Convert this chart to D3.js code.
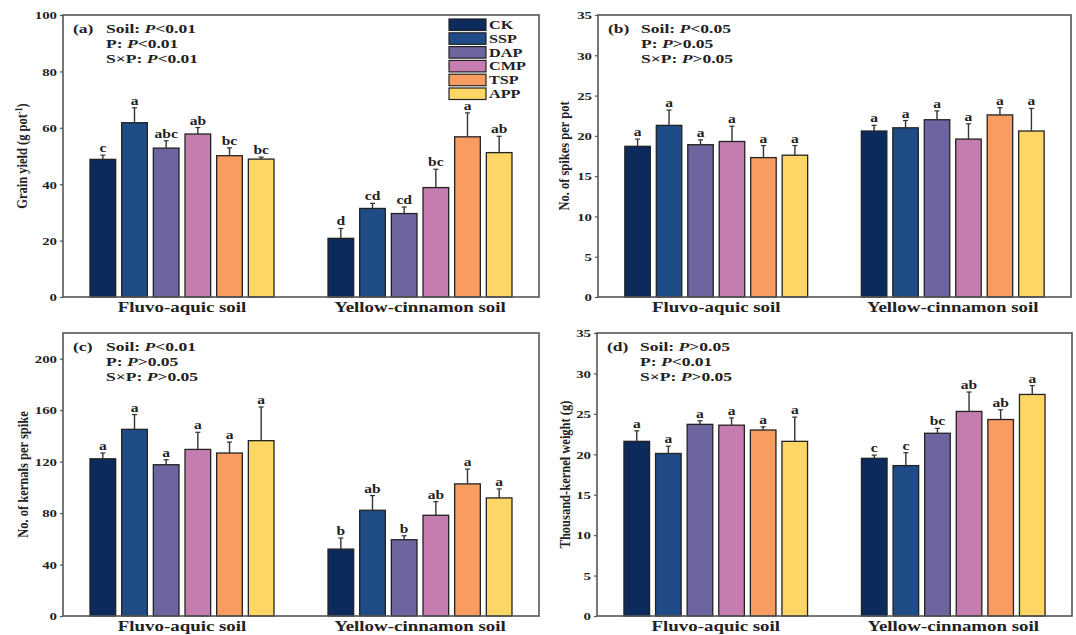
<!DOCTYPE html>
<html>
<head>
<meta charset="utf-8">
<script src="https://cdn.jsdelivr.net/npm/d3@7/dist/d3.min.js"></script>
<style>
  body { margin: 0; background: #fff; }
  svg text { font-family: "Liberation Serif", "Times New Roman", serif; font-weight: bold; fill: #222; }
</style>
</head>
<body>
<svg id="chart" width="1076" height="635"></svg>
<script>
// treatments and soils
const treatments = ["CK", "SSP", "DAP", "CMP", "TSP", "APP"];
const soils = ["Fluvo-aquic soil", "Yellow-cinnamon soil"];
const barColors = ["#0c2a5b", "#1f4b87", "#6d659f", "#c57db0", "#f99c62", "#fdd665"];

// (a) grain yield
const yieldFluvo = [48.8, 61.8, 52.8, 57.8, 50.1, 48.9];
const yieldFluvoErr = [1.5, 5.3, 2.6, 2.3, 2.8, 0.7];
const yieldFluvoLet = ["c", "a", "abc", "ab", "bc", "bc"];
const yieldYellow = [20.8, 31.4, 29.6, 38.8, 56.8, 51.2];
const yieldYellowErr = [3.5, 1.8, 2.3, 6.5, 8.5, 5.8];
const yieldYellowLet = ["d", "cd", "cd", "bc", "a", "ab"];

// (b) spikes per pot
const spikeFluvo = [18.7, 21.3, 18.9, 19.3, 17.3, 17.6];
const spikeFluvoErr = [0.9, 1.9, 0.6, 1.9, 1.5, 1.2];
const spikeFluvoLet = ["a", "a", "a", "a", "a", "a"];
const spikeYellow = [20.6, 21.0, 22.0, 19.6, 22.6, 20.6];
const spikeYellowErr = [0.7, 0.9, 1.1, 1.9, 0.9, 2.8];
const spikeYellowLet = ["a", "a", "a", "a", "a", "a"];

// (c) kernels per spike
const kernelFluvo = [122.2, 145.1, 117.6, 129.5, 126.7, 136.3];
const kernelFluvoErr = [4.5, 11.5, 3.9, 13.3, 8.5, 26.2];
const kernelFluvoLet = ["a", "a", "a", "a", "a", "a"];
const kernelYellow = [52.0, 82.2, 59.3, 78.3, 102.7, 91.8];
const kernelYellowErr = [8.6, 11.4, 3.1, 10.6, 11.5, 7.0];
const kernelYellowLet = ["b", "ab", "b", "ab", "a", "a"];

// (d) thousand-kernel weight
const tkwFluvo = [21.6, 20.1, 23.7, 23.6, 23.0, 21.6];
const tkwFluvoErr = [1.3, 0.9, 0.45, 0.9, 0.4, 3.0];
const tkwFluvoLet = ["a", "a", "a", "a", "a", "a"];
const tkwYellow = [19.5, 18.6, 22.6, 25.3, 24.3, 27.4];
const tkwYellowErr = [0.4, 1.6, 0.6, 2.4, 1.2, 1.1];
const tkwYellowLet = ["c", "c", "bc", "ab", "ab", "a"];

const statsA = ["Soil: P<0.01", "P: P<0.01", "S\u00d7P: P<0.01"];
const statsB = ["Soil: P<0.05", "P: P>0.05", "S\u00d7P: P>0.05"];
const statsC = ["Soil: P<0.01", "P: P>0.05", "S\u00d7P: P>0.05"];
const statsD = ["Soil: P>0.05", "P: P<0.01", "S\u00d7P: P>0.05"];

const ticksA = [0, 20, 40, 60, 80, 100];
const ticksB = [0, 5, 10, 15, 20, 25, 30, 35];
const ticksC = [0, 40, 80, 120, 160, 200];
const ticksD = [0, 5, 10, 15, 20, 25, 30, 35];

const panels = [
  { tag: "(a)", ylab: "Grain yield (g pot", sup: "-1", ymax: 100, ticks: ticksA, stats: statsA,
    box: { x0: 63, x1: 539, y0: 15, y1: 297 }, labX: 23, legend: true,
    mean: [yieldFluvo, yieldYellow], err: [yieldFluvoErr, yieldYellowErr], lets: [yieldFluvoLet, yieldYellowLet] },
  { tag: "(b)", ylab: "No. of spikes per pot", ymax: 35, ticks: ticksB, stats: statsB,
    box: { x0: 598, x1: 1071, y0: 15, y1: 297 }, labX: 565,
    mean: [spikeFluvo, spikeYellow], err: [spikeFluvoErr, spikeYellowErr], lets: [spikeFluvoLet, spikeYellowLet] },
  { tag: "(c)", ylab: "No. of kernals per spike", ymax: 220, ticks: ticksC, stats: statsC,
    box: { x0: 63, x1: 539, y0: 333, y1: 616 }, labX: 24,
    mean: [kernelFluvo, kernelYellow], err: [kernelFluvoErr, kernelYellowErr], lets: [kernelFluvoLet, kernelYellowLet] },
  { tag: "(d)", ylab: "Thousand-kernel weight (g)", ymax: 35, ticks: ticksD, stats: statsD,
    box: { x0: 597, x1: 1072, y0: 333, y1: 616 }, labX: 566,
    mean: [tkwFluvo, tkwYellow], err: [tkwFluvoErr, tkwYellowErr], lets: [tkwFluvoLet, tkwYellowLet] }
];

const svg = d3.select("#chart");
const sx = 1.35; // the figure is stretched sideways

function stretched(sel, x, y) {
  return sel.attr("transform", "translate(" + x + "," + y + ") scale(" + sx + ",1)");
}

panels.forEach(p => {
  const b = p.box;
  const g = svg.append("g");

  const x0 = d3.scaleBand().domain(soils).range([b.x0, b.x1]).paddingInner(0.227).paddingOuter(0.1135);
  const x1 = d3.scaleBand().domain(treatments).range([0, x0.bandwidth()]).paddingInner(0.19).paddingOuter(0);
  const y = d3.scaleLinear().domain([0, p.ymax]).range([b.y1, b.y0]);

  // y axis
  const axis = g.append("g")
    .attr("transform", "translate(" + b.x0 + ",0)")
    .call(d3.axisLeft(y).tickValues(p.ticks).tickSize(3).tickPadding(2).tickFormat(d3.format("d")));
  axis.select(".domain").remove();
  axis.selectAll(".tick line").attr("stroke", "#555").attr("stroke-width", 1.2);
  axis.selectAll(".tick text")
    .attr("font-size", 11)
    .attr("fill", "#222")
    .attr("x", null).attr("dy", null)
    .each(function(d) {
      stretched(d3.select(this), -6, 3.8);
    });

  // bars
  soils.forEach((s, si) => {
    const grp = g.append("g").attr("transform", "translate(" + x0(s) + ",0)");
    const rows = treatments.map((t, ti) => ({ t: t, ti: ti, v: p.mean[si][ti], e: p.err[si][ti], l: p.lets[si][ti] }));

    grp.selectAll("rect.bar")
      .data(rows)
      .enter()
      .append("rect")
      .attr("x", d => x1(d.t))
      .attr("y", d => y(d.v))
      .attr("width", x1.bandwidth())
      .attr("height", d => y(0) - y(d.v))
      .attr("fill", d => barColors[d.ti])
      .attr("stroke", "#222")
      .attr("stroke-width", 1.3);

    // error bars, upper half only
    grp.selectAll("line.err")
      .data(rows)
      .enter()
      .append("line")
      .attr("x1", d => x1(d.t) + x1.bandwidth() / 2)
      .attr("x2", d => x1(d.t) + x1.bandwidth() / 2)
      .attr("y1", d => y(d.v))
      .attr("y2", d => y(d.v + d.e))
      .attr("stroke", "#333")
      .attr("stroke-width", 1.4);

    grp.selectAll("line.cap")
      .data(rows)
      .enter()
      .append("line")
      .attr("x1", d => x1(d.t) + x1.bandwidth() / 2 - 2.5)
      .attr("x2", d => x1(d.t) + x1.bandwidth() / 2 + 2.5)
      .attr("y1", d => y(d.v + d.e))
      .attr("y2", d => y(d.v + d.e))
      .attr("stroke", "#333")
      .attr("stroke-width", 1.2);

    grp.selectAll("text.let")
      .data(rows)
      .enter()
      .append("text")
      .attr("text-anchor", "middle")
      .attr("font-size", 11.5)
      .text(d => d.l)
      .each(function(d) {
        stretched(d3.select(this), x1(d.t) + x1.bandwidth() / 2, y(d.v + d.e) - 3);
      });

    stretched(g.append("text"), x0(s) + x0.bandwidth() / 2, b.y1 + 15)
      .attr("text-anchor", "middle")
      .attr("font-size", 14)
      .text(s);
  });

  // frame
  g.append("rect")
    .attr("x", b.x0).attr("y", b.y0)
    .attr("width", b.x1 - b.x0).attr("height", b.y1 - b.y0)
    .attr("fill", "none")
    .attr("stroke", "#555")
    .attr("stroke-width", 1.6);

  // y label
  const yl = g.append("text")
    .attr("transform", "translate(" + (p.labX + 4) + "," + ((b.y0 + b.y1) / 2) + ") rotate(-90) scale(1,1.2)")
    .attr("text-anchor", "middle")
    .attr("font-size", 12.5)
    .text(p.ylab);
  if (p.sup) {
    yl.append("tspan").attr("dy", -4).attr("font-size", 8).text(p.sup);
    yl.append("tspan").attr("dy", 4).text(")");
  }

  // panel tag and statistics
  stretched(g.append("text"), b.x0 + 10, b.y0 + 18).attr("font-size", 13).text(p.tag);
  p.stats.forEach((s, i) => {
    const head = s.split(": ")[0] + ": ";
    const rest = s.slice(head.length);
    const t = stretched(g.append("text"), b.x0 + 43, b.y0 + 18 + i * 15).attr("font-size", 13);
    t.append("tspan").text(head);
    t.append("tspan").attr("font-style", "italic").text(rest.slice(0, 1));
    t.append("tspan").text(rest.slice(1));
  });

  // legend
  if (p.legend) {
    const lg = g.append("g").attr("transform", "translate(449," + (b.y0 + 4) + ")");
    treatments.forEach((t, i) => {
      lg.append("rect")
        .attr("x", 0).attr("y", i * 13.8)
        .attr("width", 37).attr("height", 11.5)
        .attr("fill", barColors[i])
        .attr("stroke", "#222")
        .attr("stroke-width", 1.2);
      stretched(lg.append("text"), 40, i * 13.8 + 10).attr("font-size", 12).text(t);
    });
  }
});
</script>
</body>
</html>
